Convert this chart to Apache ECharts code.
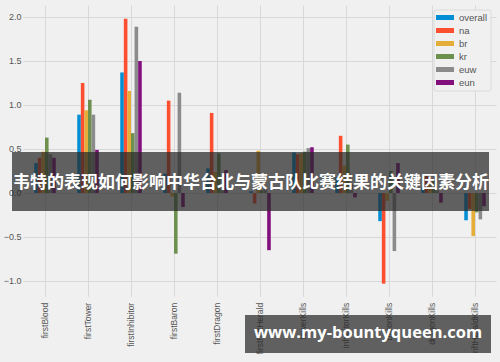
<!DOCTYPE html>
<html>
<head>
<meta charset="utf-8">
<script src="https://cdn.jsdelivr.net/npm/echarts@6/dist/echarts.min.js"></script>
<style>
html,body{margin:0;padding:0;background:#f0f0f0;}
#chart{width:500px;height:362px;}
</style>
</head>
<body>
<div id="chart"></div>
<script>
const categories = ['firstBlood','firstTower','firstInhibitor','firstBaron','firstDragon','firstRiftHerald','towerKills','inhibitorKills','baronKills','dragonKills','riftHeraldKills'];
const seriesNames = ['overall','na','br','kr','euw','eun'];
const overall = [0.34, 0.89, 1.37, 0.22, 0.28, 0.02, 0.46, 0.18, -0.32, 0.06, -0.31];
const na      = [0.40, 1.25, 1.98, 1.05, 0.91, -0.12, 0.44, 0.65, -1.03, 0.20, -0.18];
const br      = [0.47, 0.94, 1.16, -0.04, 0.24, 0.48, 0.45, 0.31, -0.09, 0.12, -0.49];
const kr      = [0.63, 1.06, 0.68, -0.69, 0.45, 0.03, 0.47, 0.55, 0.25, 0.15, -0.22];
const euw     = [0.44, 0.89, 1.89, 1.14, 0.03, 0.05, 0.51, 0.10, -0.66, 0.03, -0.30];
const eun     = [0.40, 0.49, 1.50, -0.16, 0.26, -0.65, 0.52, -0.05, 0.34, -0.11, -0.15];
const yTicks = [-1.0, -0.5, 0.0, 0.5, 1.0, 1.5, 2.0];
const colors = ['#008fd5','#fc4f30','#e5ae38','#6d904f','#8b8b8b','#810f7c'];
const titleText = '韦特的表现如何影响中华台北与蒙古队比赛结果的关键因素分析';
const urlText = 'www.my-bountyqueen.com';

const values = [overall, na, br, kr, euw, eun];
const chart = echarts.init(document.getElementById('chart'), null, {renderer: 'svg'});
chart.setOption({
  backgroundColor: '#f0f0f0',
  animation: false,
  color: colors,
  grid: {left: 23.5, right: 3.5, top: 5.6, bottom: 65.2, containLabel: false},
  legend: {
    orient: 'vertical', right: 9, top: 10,
    data: seriesNames,
    itemWidth: 18, itemHeight: 5, itemGap: 0,
    icon: 'rect',
    padding: [1, 4, 2, 2],
    backgroundColor: '#f0f0f0', borderColor: '#dadada', borderWidth: 1, borderRadius: 2,
    textStyle: {fontSize: 9.5, color: '#555', fontFamily: 'Liberation Sans', lineHeight: 13}
  },
  xAxis: {
    type: 'category', data: categories,
    axisLine: {show: false}, axisTick: {show: false, alignWithLabel: true},
    splitLine: {show: true, alignWithLabel: true, lineStyle: {color: '#d8d8d8', width: 1}},
    axisLabel: {rotate: 90, fontSize: 8.5, color: '#555', fontFamily: 'Liberation Sans', margin: 6, interval: 0}
  },
  yAxis: {
    type: 'value', min: -1.18, max: 2.13,
    axisLine: {show: false},
    axisTick: {show: false, customValues: yTicks},
    splitLine: {show: true, lineStyle: {color: '#d8d8d8', width: 1}},
    axisLabel: {customValues: yTicks, fontSize: 9, color: '#555', fontFamily: 'Liberation Sans', margin: 2,
      formatter: v => v.toFixed(1).replace('-', '−')}
  },
  series: seriesNames.map((n, i) => ({
    name: n, type: 'bar', data: values[i],
    barGap: '0%', barCategoryGap: '50%'
  })),
  graphic: [
    {type: 'rect', left: 12, top: 152, shape: {width: 477, height: 59}, style: {fill: 'rgba(40,40,40,0.72)'}, z: 100},
    {type: 'text', left: 13, top: 172, style: {text: titleText, fill: '#fff', font: 'bold 17px "Noto Sans CJK SC"'}, z: 101},
    {type: 'rect', left: 245, top: 315, shape: {width: 246, height: 38}, style: {fill: 'rgba(40,40,40,0.72)'}, z: 100},
    {type: 'text', left: 254, top: 323, style: {text: urlText, fill: '#fff', font: 'bold 16.5px "Open Sans"'}, z: 101}
  ]
});
</script>
</body>
</html>
